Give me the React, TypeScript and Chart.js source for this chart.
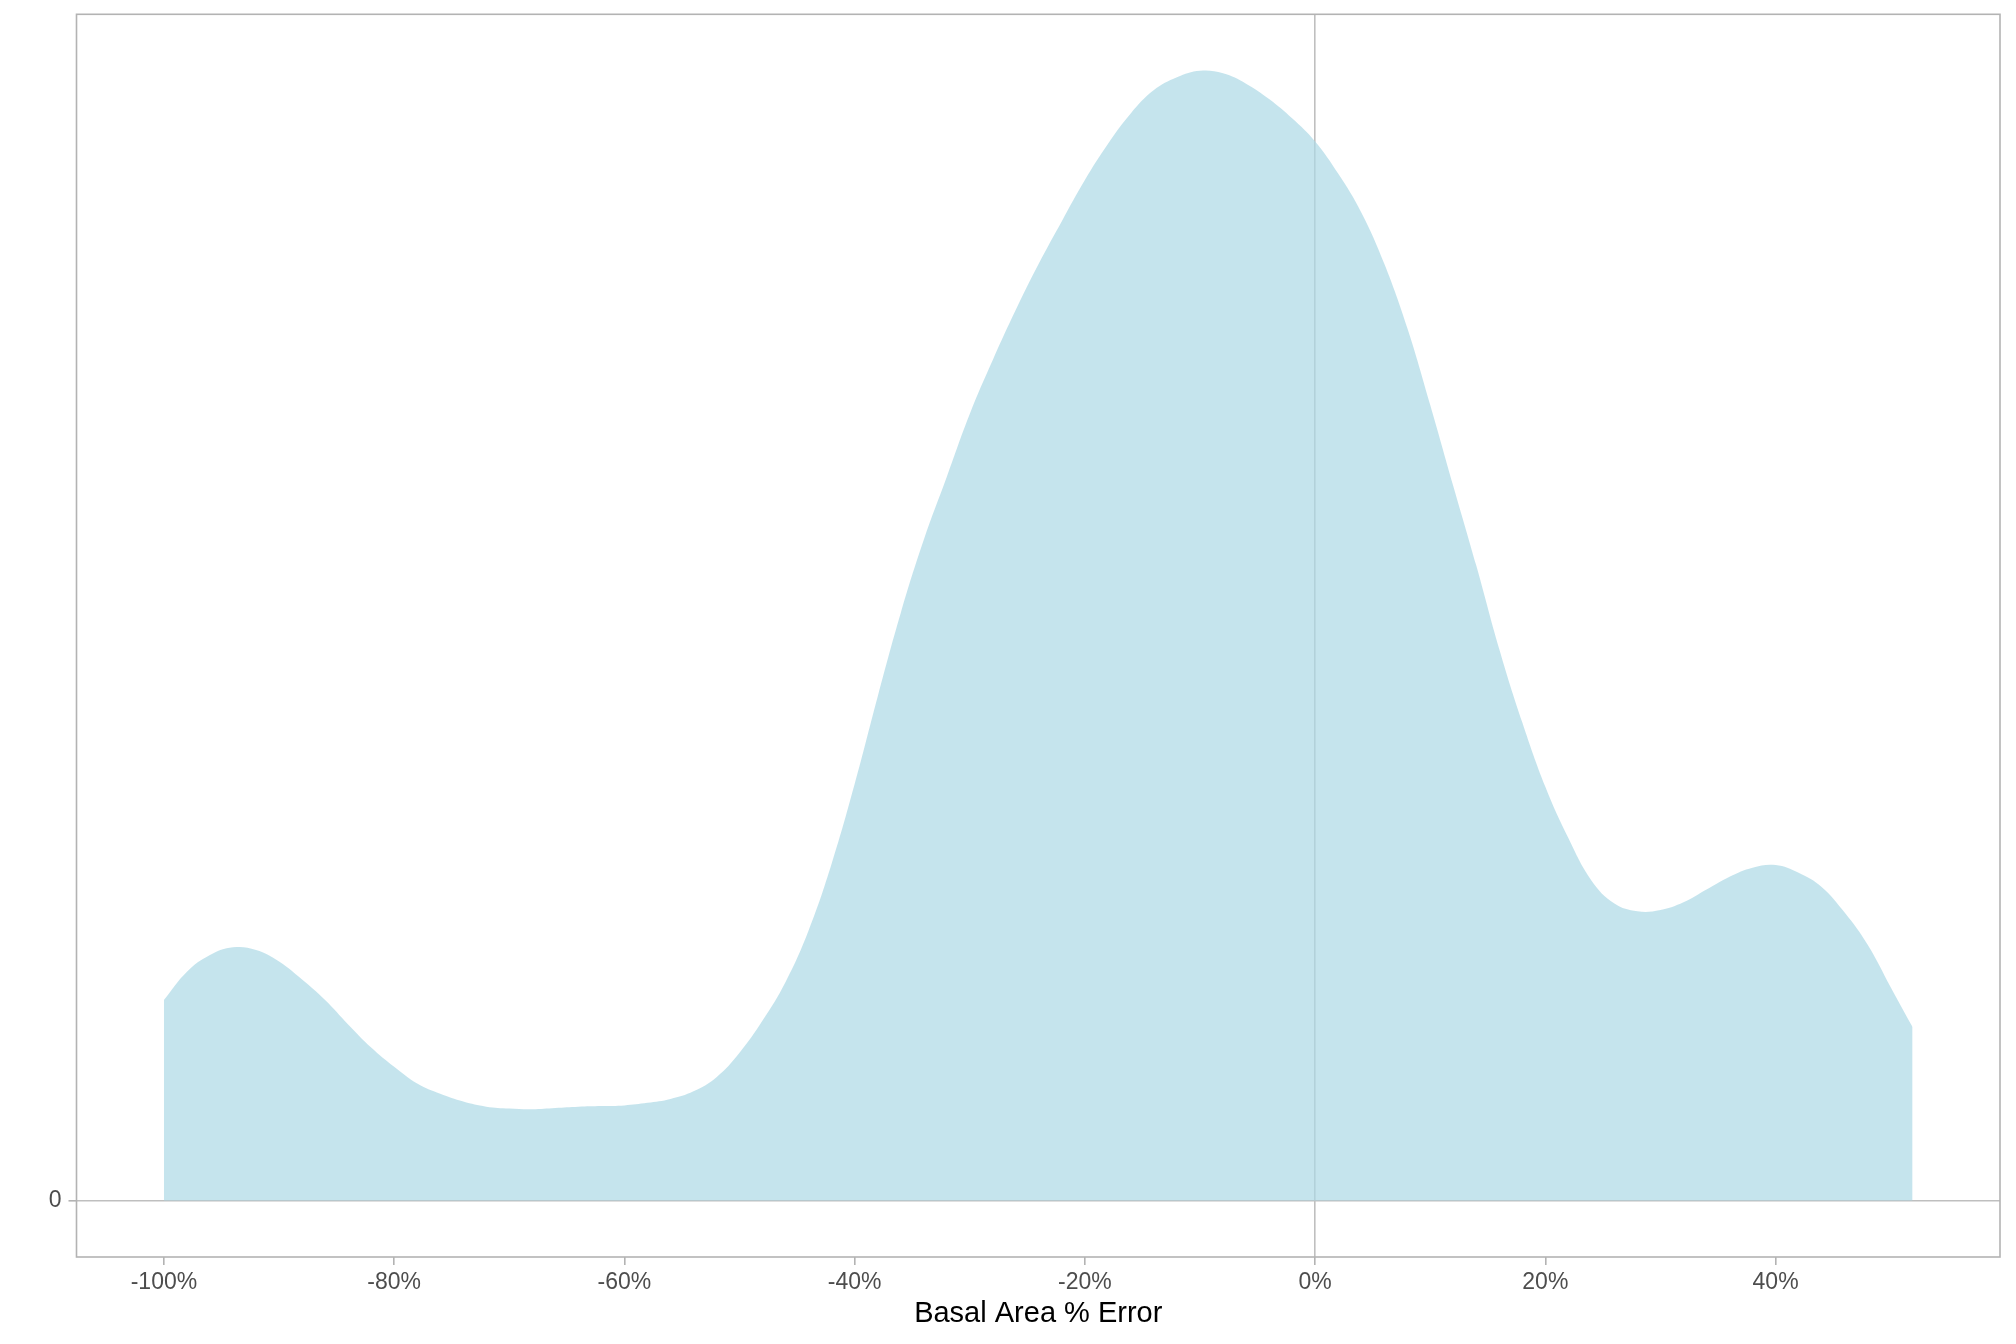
import React, { useEffect, useRef } from "react";
import { Chart, registerables } from "chart.js";

Chart.register(...registerables);

// x positions (% error) and density estimates (arbitrary units)
const xValues: number[] = [
  -100, -98, -96, -94, -92, -90, -88, -86, -84, -82, -80, -78, -76, -74, -72, -70,
  -68, -66, -64, -62, -60, -58, -56, -54, -52, -50, -48, -46, -44, -42, -40, -38,
  -36, -34, -32, -30, -28, -26, -24, -22, -20, -18, -16, -14, -12, -10, -8, -6,
  -4, -2, 0, 2, 4, 6, 8, 10, 12, 14, 16, 18, 20, 22, 24, 26, 28, 30, 32, 34, 36,
  38, 40, 42, 44, 46, 48, 50, 51.9,
];
const densityValues: number[] = [
  156, 178, 191, 197, 195, 186, 172, 156, 137, 119, 104, 91, 83, 77, 73, 71.5,
  71, 72, 73, 73.5, 74, 76, 79, 85, 96, 115, 140, 170, 210, 262, 324, 392,
  457, 514, 563, 612, 654, 693, 729, 762, 794, 822, 846, 864, 874, 879, 877, 869,
  857, 842, 824, 799, 769, 729, 679, 619, 556, 494, 429, 372, 322, 282, 249, 231,
  225, 226, 232, 242, 252, 259, 261, 255, 244, 224, 199, 166, 135,
].map((v) => v / 10000);
const xTicks: number[] = [-100, -80, -60, -40, -20, 0, 20, 40];
const yTicks: number[] = [0];
const xTitle = "Basal Area % Error";

const FONT = "'Liberation Sans', Arial, Helvetica, sans-serif";

export default function App() {
  const ref = useRef<HTMLCanvasElement | null>(null);

  useEffect(() => {
    document.body.style.margin = "0";
    const canvas = ref.current;
    if (!canvas) return;

    const xMin = Math.min(...xValues);
    const xMax = Math.max(...xValues);
    const xPad = (xMax - xMin) * 0.05;
    const yMax = Math.max(...densityValues);
    const yPad = yMax * 0.05;

    const borderPlugin = {
      id: "panelBorder",
      afterDraw(chart: any) {
        const { ctx, chartArea } = chart;
        ctx.save();
        ctx.strokeStyle = "#b3b3b3";
        ctx.lineWidth = 1.6;
        ctx.strokeRect(
          chartArea.left,
          chartArea.top,
          chartArea.right - chartArea.left,
          chartArea.bottom - chartArea.top
        );
        ctx.restore();
      },
    };

    const chart = new Chart(canvas, {
      type: "line",
      data: {
        datasets: [
          {
            data: xValues.map((x, i) => ({ x, y: densityValues[i] })),
            fill: "origin",
            backgroundColor: "rgba(173,216,230,0.7)",
            borderColor: "rgba(0,0,0,0)",
            borderWidth: 0,
            pointRadius: 0,
            tension: 0.4,
          },
        ],
      },
      plugins: [borderPlugin],
      options: {
        responsive: false,
        animation: false,
        events: [],
        layout: { padding: { top: 14.3, right: 16, left: 0, bottom: 0 } },
        plugins: {
          legend: { display: false },
          tooltip: { enabled: false },
        },
        scales: {
          x: {
            type: "linear",
            min: xMin - xPad,
            max: xMax + xPad,
            afterFit: (scale: any) => {
              scale.height = 87;
              scale.paddingLeft = 0;
              scale.paddingRight = 0;
            },
            afterBuildTicks: (scale: any) => {
              scale.ticks = xTicks.map((v) => ({ value: v }));
            },
            border: { display: false },
            grid: {
              color: (c: any) => (c.tick && c.tick.value === 0 ? "#bfbfbf" : "rgba(0,0,0,0)"),
              lineWidth: 1.6,
              tickColor: "#b3b3b3",
              tickLength: 8,
              drawTicks: true,
            },
            ticks: {
              color: "#4d4d4d",
              font: { family: FONT, size: 23 },
              padding: 3.5,
              maxRotation: 0,
              autoSkip: false,
              callback: (v: any) => `${v}%`,
            },
            title: {
              display: true,
              text: xTitle,
              color: "#000000",
              font: { family: FONT, size: 29 },
              padding: { top: 0, bottom: 12.5 },
            },
          },
          y: {
            type: "linear",
            min: -yPad,
            max: yMax + yPad,
            afterFit: (scale: any) => {
              scale.width = 76.5;
              scale.paddingTop = 0;
              scale.paddingBottom = 0;
            },
            afterBuildTicks: (scale: any) => {
              scale.ticks = yTicks.map((v) => ({ value: v }));
            },
            border: { display: false },
            grid: {
              color: (c: any) => (c.tick && c.tick.value === 0 ? "#bfbfbf" : "rgba(0,0,0,0)"),
              lineWidth: 1.6,
              tickColor: "#b3b3b3",
              tickLength: 8,
              drawTicks: true,
            },
            ticks: {
              color: "#4d4d4d",
              font: { family: FONT, size: 23 },
              padding: 7,
              callback: (v: any) => `${v}`,
            },
          },
        },
      },
    } as any);

    return () => {
      chart.destroy();
    };
  }, []);

  return (
    <div style={{ width: 2016, height: 1344, background: "#ffffff" }}>
      <canvas ref={ref} width={2016} height={1344} style={{ width: 2016, height: 1344, display: "block" }} />
    </div>
  );
}
